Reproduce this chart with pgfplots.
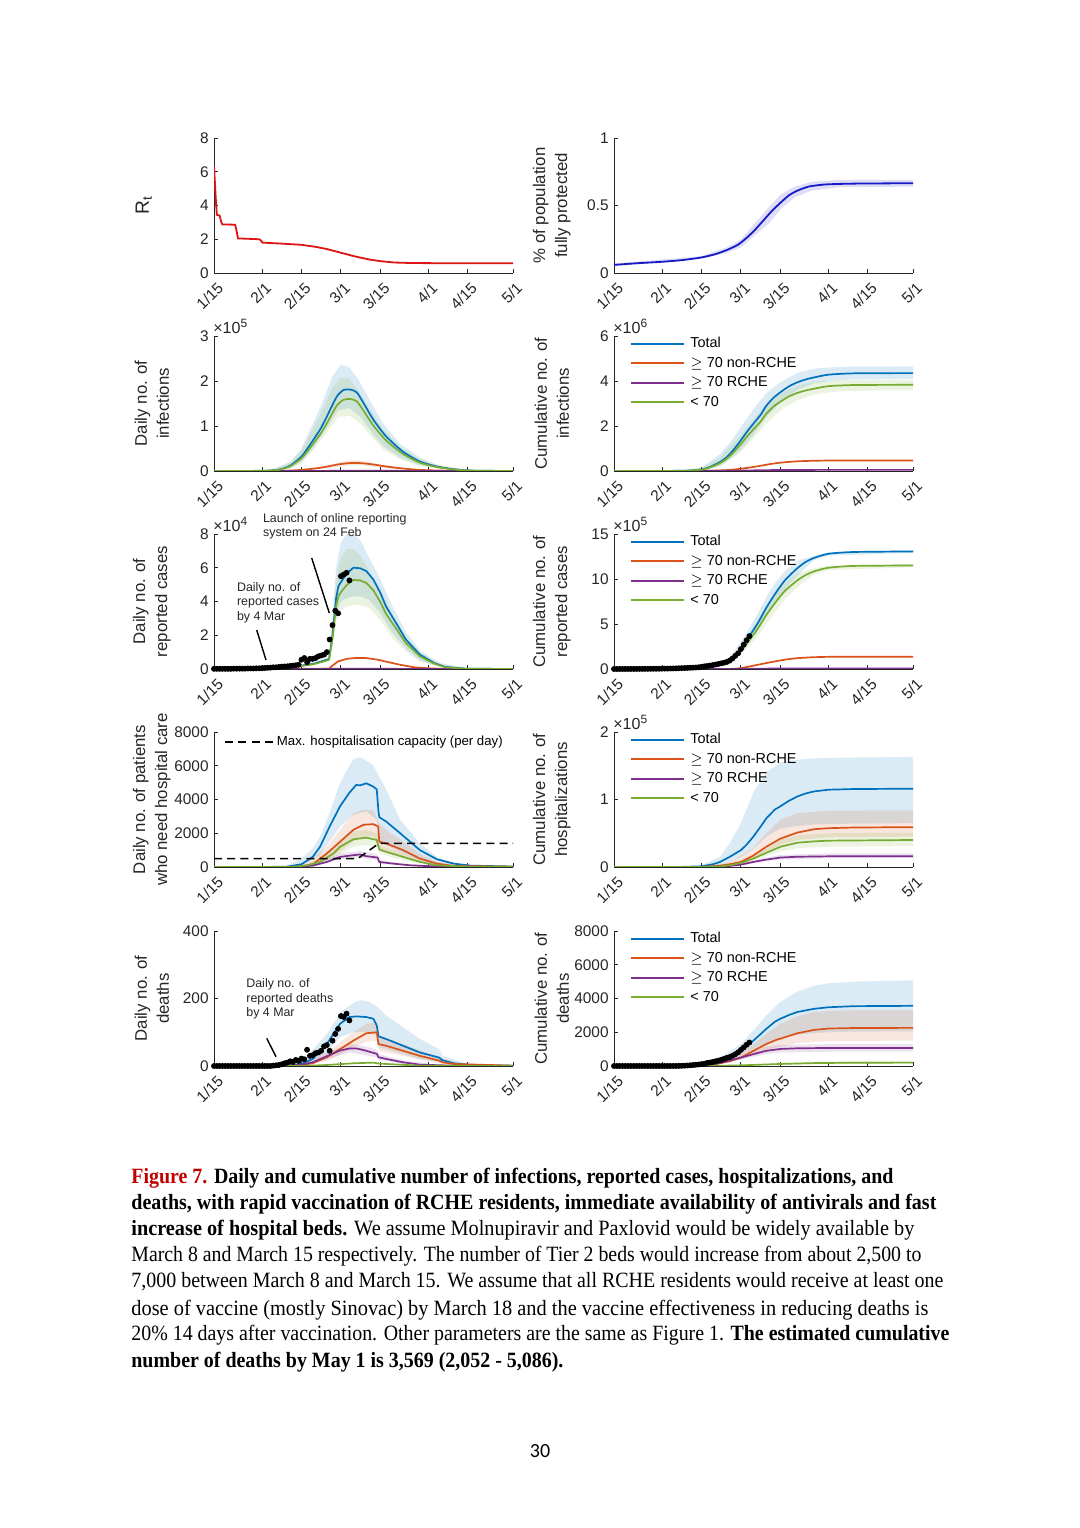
\documentclass[border=0pt]{standalone}
\usepackage{fontspec}
\setmainfont{Liberation Sans}
\newfontfamily\capfont{Liberation Serif}
\newfontfamily\pagefont{Carlito}
\usepackage{graphicx}
\usepackage{pgfplots}
\pgfplotsset{compat=1.18}

\definecolor{axgray}{RGB}{38,38,38}
\definecolor{mblue}{RGB}{0,114,189}
\definecolor{morange}{RGB}{217,83,25}
\definecolor{mpurple}{RGB}{126,47,142}
\definecolor{mgreen}{RGB}{119,172,48}
\definecolor{rtred}{RGB}{220,20,20}
\definecolor{vacblue}{RGB}{25,25,200}
\definecolor{figred}{RGB}{192,0,0}

\newcommand\ticksize{\fontsize{7.7}{9}\selectfont}
\newcommand\facsize{\fontsize{8}{9}\selectfont}
\newcommand\labsize{\fontsize{8.4}{11}\selectfont}
\newcommand\legsize{\fontsize{7.2}{8.5}\selectfont}
\newcommand\notesize{\fontsize{6.2}{7.5}\selectfont}
\newcommand\capsize{\fontsize{10.9}{13}\selectfont}
\newcommand\capline[3]{\node[anchor=base west, inner sep=0pt] at (131,#1)
  {\resizebox{#2}{\height}{\capfont\capsize #3}};}

\pgfplotsset{
  mat/.style={
    scale only axis, width=149.5pt, height=67.5pt,
    xmin=0, xmax=106, ymin=0,
    xtick={0,17,31,45,59,76,90,106},
    xticklabels={1/15,2/1,2/15,3/1,3/15,4/1,4/15,5/1},
    axis x line*=bottom, axis y line*=left,
    axis line style={-, axgray, line width=0.45pt},
    tick align=inside, major tick length=2.2pt,
    every tick/.style={axgray, line width=0.45pt},
    tick label style={font=\ticksize, text=axgray},
    xticklabel style={rotate=45, anchor=north east, inner sep=0pt, xshift=-1.9pt, yshift=-3.5pt},
    yticklabel style={inner sep=0pt, xshift=-2.5pt},
    scaled ticks=false,
    /pgf/number format/assume math mode=true,
    /pgf/number format/1000 sep={},
    every axis y label/.style={at={(axis description cs:-0.208,0.5)}, rotate=90,
      anchor=center, align=center, font=\labsize, text=axgray},
    legend image code/.code={\draw[##1, line width=1pt] (0pt,0pt) -- (26.5pt,0pt);},
    legend cell align=left,
    legend style={draw=none, fill=none, at={(axis description cs:0.0535,1)},
      anchor=north west, font=\legsize, inner sep=0pt, row sep=2.15pt,
      nodes={inner sep=0.5pt, text height=5.2pt, text depth=1.4pt},
      /tikz/every odd column/.append style={column sep=2pt}},
  },
  hosplegend/.style={
    legend image code/.code={\draw[##1] (0pt,0pt) -- (24.5pt,0pt);},
    legend style={at={(axis description cs:0.0334,0.985)}, font=\fontsize{6.6}{8}\selectfont,
      /tikz/every odd column/.append style={column sep=0.5pt}}},
  ln/.style={line width=0.85pt},
  bd/.style={draw=none, fill=#1, fill opacity=0.14, forget plot},
  dots/.style={only marks, mark=*, mark size=1.25pt, black, forget plot},
}

\begin{document}
\begin{tikzpicture}
\path[use as bounding box, fill=white] (0,0) rectangle (540pt,764pt);

% ---------- row 1 ----------
\begin{axis}[mat, name=A, at={(107pt,627.5pt)}, anchor=south west,
  ymax=8, ytick={0,2,4,6,8}, ylabel={R\textsubscript{t}},
  every axis y label/.append style={at={(axis description cs:-0.235,0.5)}, font=\fontsize{9.6}{11}\selectfont}]
\addplot[rtred, line width=0.9pt] coordinates {
(0,6.35)(0.6,4.5)(1,3.45)(2,3.4)(2.6,3.0)(3,2.88)(7.5,2.86)(8,2.5)(8.5,2.05)
(16,2.0)(16.5,1.95)(17.2,1.8)(24,1.74)(31,1.67)(36,1.55)(40,1.42)(45,1.2)
(50,0.98)(55,0.8)(59,0.7)(64,0.62)(70,0.59)(80,0.58)(106,0.58)};
\end{axis}

\begin{axis}[mat, name=B, at={(307pt,627.5pt)}, anchor=south west,
  ymax=1, ytick={0,0.5,1}, ylabel={\% of population\\fully protected}]
\addplot[bd=vacblue] coordinates {
(0,0.07)(31,0.125)(40,0.19)(45,0.25)(50,0.37)(55,0.49)(59,0.58)(64,0.64)(70,0.675)(80,0.69)(106,0.69)
(106,0.64)(80,0.635)(70,0.61)(64,0.56)(59,0.47)(55,0.37)(50,0.28)(45,0.19)(40,0.15)(31,0.105)(0,0.05)};
\addplot[vacblue, line width=0.9pt, smooth, tension=0.4] coordinates {
(0,0.06)(8,0.072)(17,0.083)(24,0.095)(31,0.115)(36,0.14)(40,0.17)(44,0.21)(47,0.26)
(50,0.32)(53,0.39)(56,0.46)(59,0.52)(62,0.575)(65,0.61)(69,0.64)(73,0.652)(76,0.657)(85,0.662)(106,0.665)};
\end{axis}

% ---------- row 2 ----------
\begin{axis}[mat, name=C, at={(107pt,528.5pt)}, anchor=south west,
  ymax=3, ytick={0,1,2,3}, ylabel={Daily no. of\\infections}]
\addplot[bd=mblue] coordinates {
(20,0.02)(27,0.2)(31,0.5)(37.6,1.4)(42,2.1)(45,2.37)(48,2.3)(51,2.05)(55,1.6)(60,1.05)(66,0.6)(73,0.3)(80,0.12)(90,0.03)(106,0)
(106,0)(90,0.005)(80,0.06)(73,0.13)(66,0.3)(60,0.55)(56,0.85)(52,1.2)(48,1.4)(44,1.35)(40,0.95)(35,0.5)(31,0.2)(27,0.06)(20,0)};
\addplot[bd=mgreen] coordinates {
(20,0.02)(27,0.18)(31,0.45)(37.6,1.25)(42,1.85)(45,2.08)(48,2.05)(51,1.8)(55,1.4)(60,0.92)(66,0.52)(73,0.26)(80,0.1)(90,0.02)(106,0)
(106,0)(90,0.004)(80,0.05)(73,0.11)(66,0.26)(60,0.48)(56,0.75)(52,1.05)(48,1.23)(44,1.2)(40,0.85)(35,0.45)(31,0.18)(27,0.05)(20,0)};
\addplot[bd=morange] coordinates {
(24,0.005)(31,0.035)(40,0.12)(47,0.23)(52,0.23)(60,0.14)(70,0.04)(80,0.01)(106,0)
(106,0)(80,0.005)(70,0.02)(60,0.07)(52,0.13)(47,0.12)(40,0.06)(31,0.015)(24,0)};
\addplot[mblue, ln, smooth, tension=0.4] coordinates {
(0,0)(17,0.005)(23,0.03)(27,0.12)(31,0.32)(34,0.58)(37.6,0.92)(40,1.21)(43.5,1.65)(45.9,1.8)
(48.2,1.81)(50.6,1.75)(53,1.51)(56.5,1.14)(61,0.77)(67,0.43)(73,0.21)(79,0.1)(85,0.04)(91,0.01)(106,0)};
\addplot[morange, ln, smooth, tension=0.4] coordinates {
(0,0)(24,0.005)(31,0.025)(37.6,0.07)(43.5,0.14)(47,0.17)(50,0.18)(53,0.17)(57,0.14)(61,0.1)
(67,0.055)(73,0.025)(80,0.01)(90,0.002)(106,0)};
\addplot[mpurple, ln] coordinates {(0,0)(40,0.003)(50,0.006)(60,0.004)(80,0.001)(106,0)};
\addplot[mgreen, ln, smooth, tension=0.4] coordinates {
(0,0)(17,0.004)(23,0.026)(27,0.106)(31,0.28)(34,0.51)(37.6,0.81)(40,1.06)(43.5,1.45)(45.9,1.58)
(48.2,1.6)(50.6,1.55)(53,1.34)(56.5,1.01)(61,0.68)(67,0.38)(73,0.185)(79,0.088)(85,0.035)(91,0.009)(106,0)};
\end{axis}

\begin{axis}[mat, name=D, at={(307pt,528.5pt)}, anchor=south west,
  ymax=6, ytick={0,2,4,6}, ylabel={Cumulative no. of\\infections}]
\addplot[bd=mblue] coordinates {
(24,0.02)(31,0.15)(37.6,0.75)(42,1.4)(45,1.95)(49.4,2.75)(54,3.45)(59,3.95)(65,4.35)(71,4.55)(80,4.63)(106,4.65)
(106,4.1)(80,4.05)(71,3.9)(65,3.6)(59,3.05)(54,2.4)(49.4,1.6)(45,0.95)(42,0.6)(37.6,0.22)(31,0.03)(24,0)};
\addplot[bd=mgreen] coordinates {
(24,0.02)(31,0.12)(37.6,0.6)(45,1.6)(54,3.0)(59,3.45)(65,3.8)(71,3.97)(80,4.04)(106,4.05)
(106,3.6)(80,3.55)(71,3.4)(65,3.15)(59,2.7)(54,2.1)(45,0.85)(37.6,0.2)(31,0.03)(24,0)};
\addplot[mblue, ln, smooth, tension=0.4] coordinates {
(0,0)(24,0.01)(31,0.07)(34,0.18)(37.6,0.4)(40,0.62)(42.3,0.93)(45,1.37)(47,1.72)(49.4,2.1)(52,2.5)
(54,2.9)(56.5,3.25)(59,3.5)(62,3.76)(65,3.94)(68,4.07)(71,4.16)(76,4.28)(85,4.34)(106,4.35)};
\addplot[morange, ln, smooth, tension=0.4] coordinates {
(0,0)(31,0.005)(40,0.04)(45,0.1)(50,0.19)(55,0.3)(59,0.37)(65,0.43)(71,0.455)(80,0.468)(106,0.47)};
\addplot[mpurple, ln, smooth, tension=0.4] coordinates {
(0,0)(40,0.01)(50,0.03)(60,0.045)(80,0.05)(106,0.05)};
\addplot[mgreen, ln, smooth, tension=0.4] coordinates {
(0,0)(24,0.009)(31,0.062)(34,0.158)(37.6,0.35)(40,0.55)(42.3,0.82)(45,1.2)(47,1.51)(49.4,1.85)(52,2.2)
(54,2.55)(56.5,2.86)(59,3.08)(62,3.31)(65,3.47)(68,3.58)(71,3.66)(76,3.77)(85,3.82)(106,3.83)};
\legend{Total,$\geq$ 70 non-RCHE,$\geq$ 70 RCHE,< 70}
\end{axis}

% ---------- row 3 ----------
\begin{axis}[mat, name=E, at={(107pt,429.5pt)}, anchor=south west,
  ymax=8, ytick={0,2,4,6,8}, ylabel={Daily no. of\\reported cases}]
\addplot[bd=mblue] coordinates {
(40.8,0.7)(42,3)(43.3,6)(45,7.5)(47,8)(49.4,8)(52,7.6)(55,6.6)(59,5.3)(63,3.8)(68,2.2)(73,1.1)(80,0.35)(90,0.05)(106,0)
(106,0)(90,0)(80,0.15)(73,0.5)(68,1.2)(63,2.2)(59,3.3)(55,4.1)(52,4.3)(49.4,4.3)(47,4.2)(45,4)(43.3,3.2)(42,1.5)(40.8,0.5)};
\addplot[bd=mgreen] coordinates {
(40.8,0.6)(42,2.7)(43.3,5.3)(45,6.6)(47,7.1)(49.4,7.1)(52,6.7)(55,5.8)(59,4.7)(63,3.3)(68,1.9)(73,1.0)(80,0.3)(90,0.04)(106,0)
(106,0)(90,0)(80,0.13)(73,0.45)(68,1.05)(63,1.9)(59,2.9)(55,3.6)(52,3.8)(49.4,3.8)(47,3.7)(45,3.5)(43.3,2.8)(42,1.3)(40.8,0.45)};
\addplot[mblue, ln] coordinates {
(0,0)(17,0.02)(24,0.08)(31,0.2)(35,0.3)(39,0.5)(40.8,0.6)(42,2.0)(43.3,4.2)(44.1,4.9)(45,5.15)(47,5.65)
(49.4,6.0)(51.8,5.97)(54,5.8)(56.5,5.3)(59,4.5)(61,3.7)(65,2.6)(68,1.75)(73,0.85)(78,0.36)(82,0.12)(89,0.02)(106,0)};
\addplot[morange, ln] coordinates {
(0,0)(40.8,0.02)(42,0.2)(44,0.45)(47,0.6)(50,0.65)(54,0.65)(58,0.55)(62,0.4)(66,0.25)(71,0.1)(77,0.03)(85,0.005)(106,0)};
\addplot[mpurple, ln] coordinates {(0,0)(45,0.01)(55,0.015)(70,0.005)(106,0)};
\addplot[mgreen, ln] coordinates {
(0,0)(17,0.018)(24,0.07)(31,0.18)(35,0.27)(39,0.45)(40.8,0.55)(42,1.8)(43.3,3.7)(44.1,4.3)(45,4.55)(47,4.97)
(49.4,5.28)(51.8,5.25)(54,5.1)(56.5,4.66)(59,3.96)(61,3.26)(65,2.29)(68,1.54)(73,0.75)(78,0.32)(82,0.1)(89,0.018)(106,0)};
\addplot[dots] coordinates {
(0,0.01)(1,0.01)(2,0.01)(3,0.01)(4,0.01)(5,0.01)(6,0.01)(7,0.02)(8,0.02)(9,0.02)(10,0.02)(11,0.02)
(12,0.03)(13,0.03)(14,0.03)(15,0.04)(16,0.04)(17,0.05)(18,0.06)(19,0.07)(20,0.08)(21,0.1)(22,0.1)
(23,0.12)(24,0.14)(25,0.15)(26,0.16)(27,0.18)(28,0.2)(29,0.22)(30,0.25)(31,0.55)(32,0.65)(33,0.4)
(34,0.6)(35,0.6)(36,0.65)(37,0.75)(38,0.8)(39,0.85)(40,1.0)(41,1.75)(42,2.6)(43,3.45)(44,3.3)
(45,5.5)(46,5.6)(47,5.7)(48,5.25)};
\end{axis}

\begin{axis}[mat, name=F, at={(307pt,429.5pt)}, anchor=south west,
  ymax=15, ytick={0,5,10,15}, ylabel={Cumulative no. of\\reported cases}]
\addplot[bd=mblue] coordinates {
(40,0.9)(45,3.0)(48,4.5)(51,6.2)(54,8.0)(57,9.5)(61,11.0)(65,12.0)(71,12.6)(76,12.95)(106,13.2)
(106,12.9)(76,12.6)(71,12.1)(65,10.4)(61,9.0)(57,7.2)(54,5.8)(51,4.2)(48,3.0)(45,2.0)(40,0.7)};
\addplot[bd=mgreen] coordinates {
(40,0.8)(45,2.6)(48,4.0)(51,5.5)(54,7.1)(57,8.4)(61,9.7)(65,10.6)(71,11.2)(76,11.45)(106,11.7)
(106,11.3)(76,11.0)(71,10.5)(65,9.1)(61,7.9)(57,6.3)(54,5.0)(51,3.6)(48,2.6)(45,1.7)(40,0.6)};
\addplot[mblue, ln, smooth, tension=0.4] coordinates {
(0,0)(17,0.04)(24,0.1)(31,0.22)(35,0.4)(40,0.8)(42,1.15)(45,2.2)(48,3.65)(51,5.1)(54,6.8)(57,8.3)
(59,9.2)(61,10.0)(65,11.2)(68,11.9)(71,12.35)(76,12.8)(85,13.0)(106,13.06)};
\addplot[morange, ln, smooth, tension=0.4] coordinates {
(0,0)(40,0)(42,0.02)(45,0.1)(48,0.28)(51,0.47)(54,0.66)(57,0.84)(59,0.95)(62,1.1)(65,1.2)(70,1.3)(76,1.35)(90,1.37)(106,1.37)};
\addplot[mpurple, ln] coordinates {(0,0)(40,0.005)(50,0.03)(60,0.06)(80,0.07)(106,0.07)};
\addplot[mgreen, ln, smooth, tension=0.4] coordinates {
(0,0)(17,0.035)(31,0.18)(40,0.7)(42,1.0)(45,1.95)(48,3.2)(51,4.5)(54,6.0)(57,7.3)(59,8.1)(61,8.8)
(65,9.85)(68,10.45)(71,10.85)(76,11.25)(85,11.45)(106,11.5)};
\addplot[dots] coordinates {
(0,0.001)(1,0.002)(2,0.003)(3,0.003)(4,0.004)(5,0.005)(6,0.006)(7,0.008)(8,0.01)(9,0.011)(10,0.013)
(11,0.015)(12,0.017)(13,0.02)(14,0.022)(15,0.026)(16,0.029)(17,0.034)(18,0.039)(19,0.045)(20,0.052)
(21,0.061)(22,0.069)(23,0.08)(24,0.092)(25,0.105)(26,0.119)(27,0.134)(28,0.151)(29,0.17)(30,0.192)
(31,0.24)(32,0.296)(33,0.33)(34,0.382)(35,0.434)(36,0.49)(37,0.555)(38,0.625)(39,0.698)(40,0.785)
(41,0.936)(42,1.161)(43,1.459)(44,1.745)(45,2.22)(46,2.705)(47,3.198)(48,3.652)};
\legend{Total,$\geq$ 70 non-RCHE,$\geq$ 70 RCHE,< 70}
\end{axis}

% ---------- row 4 ----------
\begin{axis}[mat, hosplegend, name=G, at={(107pt,330.5pt)}, anchor=south west,
  ymax=8000, ytick={0,2000,4000,6000,8000},
  ylabel={Daily no. of patients\\who need hospital care}]
\addplot[bd=mblue] coordinates {
(25,30)(31,500)(35,1100)(37.6,1800)(41,3200)(44.3,4800)(47,5700)(49.4,6400)(51.8,6500)(54,6300)(56.5,6000)
(61,4600)(66,2800)(73,1400)(79,600)(85,200)(95,50)(106,20)
(106,0)(85,50)(79,150)(73,400)(66,900)(61,1300)(58.6,1500)(57.7,2800)(54,3300)(49.4,3100)(44.7,2400)(41,1500)(37.6,700)(31,60)(25,0)};
\addplot[bd=morange] coordinates {
(31,60)(40,1200)(44.7,2200)(49.4,3200)(53,3400)(56.5,3350)(58.6,2600)(61,2200)(67,1500)(73,800)(79,300)(90,50)(106,20)
(106,0)(90,10)(79,100)(73,300)(67,600)(61,900)(58.6,1000)(56.5,1800)(53,1800)(49.4,1500)(44.7,900)(40,400)(31,20)};
\addplot[bd=mgreen] coordinates {
(33,150)(42,1100)(49.4,2100)(54,2200)(58,2000)(58.6,1300)(67,800)(79,150)(106,10)
(106,0)(79,50)(67,400)(58.6,800)(58,1200)(54,1300)(49.4,1200)(42,500)(33,50)};
\addplot[bd=mpurple] coordinates {
(35,120)(44.7,800)(51.8,950)(58,750)(58.6,400)(70,150)(106,0)
(106,0)(70,60)(58.6,200)(58,400)(51.8,550)(44.7,450)(35,50)};
\addplot[mblue, ln, forget plot] coordinates {
(0,0)(17,0)(25.8,20)(31,160)(35,600)(37.6,1200)(41,2400)(44.7,3600)(48,4400)(50.4,4860)(51.8,4840)
(54,4960)(56.5,4760)(57.7,4600)(58.3,3300)(58.6,2950)(61,2700)(66,2000)(69.5,1500)(73,1000)(79,460)
(85,200)(91,80)(106,30)};
\addplot[morange, ln, forget plot] coordinates {
(0,0)(25,0)(31,40)(35,160)(40,800)(44.7,1500)(49.4,2200)(53,2500)(56.5,2540)(58.2,2400)(58.6,1500)
(61,1400)(67,1000)(73,500)(79,200)(85,60)(106,20)};
\addplot[mpurple, ln, forget plot] coordinates {
(0,0)(28,0)(35,80)(40,300)(44.7,600)(49.4,700)(51.8,740)(54,640)(58,560)(58.6,300)(63.5,200)(69.5,100)(80,20)(106,0)};
\addplot[mgreen, ln, forget plot] coordinates {
(0,0)(28,0)(33,100)(37.6,300)(42.3,800)(44.7,1200)(49.4,1640)(54,1740)(57.7,1600)(58.6,1040)(61,900)
(67,600)(73,300)(79,100)(90,20)(106,10)};
\addplot[black, line width=0.8pt, dash pattern=on 4pt off 2.6pt] coordinates {
(0,500)(51,500)(58.5,1400)(106,1400)};
\addlegendentry{Max. hospitalisation capacity (per day)}
\end{axis}

\begin{axis}[mat, name=H, at={(307pt,330.5pt)}, anchor=south west,
  ymax=2, ytick={0,1,2}, ylabel={Cumulative no. of\\hospitalizations}]
\addplot[bd=mblue] coordinates {
(28,0.005)(31,0.03)(37.6,0.15)(41,0.35)(45,0.65)(49.4,1.1)(54,1.4)(59,1.55)(65,1.59)(71,1.61)(80,1.62)(106,1.63)
(106,0.65)(80,0.64)(71,0.63)(65,0.61)(59,0.57)(54,0.45)(49.4,0.27)(45,0.15)(41,0.07)(37.6,0.03)(31,0.003)(28,0)};
\addplot[bd=morange] coordinates {
(31,0.002)(41,0.07)(49.4,0.28)(54,0.5)(59,0.7)(65,0.8)(76,0.835)(106,0.84)
(106,0.45)(76,0.44)(65,0.4)(59,0.33)(54,0.22)(49.4,0.12)(41,0.02)(31,0)};
\addplot[bd=mgreen] coordinates {
(33,0.003)(45,0.09)(54,0.28)(59,0.4)(65,0.47)(76,0.5)(106,0.51)
(106,0.31)(76,0.3)(65,0.28)(59,0.23)(54,0.16)(45,0.04)(33,0)};
\addplot[bd=mpurple] coordinates {
(33,0.002)(45,0.05)(54,0.14)(59,0.18)(76,0.2)(106,0.2)
(106,0.13)(76,0.128)(59,0.11)(54,0.085)(45,0.025)(33,0)};
\addplot[mblue, ln] coordinates {
(0,0)(24,0.002)(31,0.01)(35,0.04)(37.6,0.075)(41,0.15)(45,0.25)(47,0.33)(49.4,0.45)(52,0.6)(54,0.72)
(57,0.85)(59,0.9)(62,0.98)(65,1.045)(68,1.09)(71,1.12)(76,1.145)(85,1.155)(106,1.16)};
\addplot[morange, ln] coordinates {
(0,0)(31,0.001)(37.6,0.02)(41,0.04)(45,0.075)(49.4,0.17)(54,0.3)(59,0.42)(62,0.465)(65,0.51)(71,0.56)
(76,0.575)(85,0.585)(106,0.59)};
\addplot[mpurple, ln] coordinates {
(0,0)(33,0.001)(37.6,0.008)(41,0.015)(45,0.035)(49.4,0.075)(54,0.11)(59,0.14)(65,0.152)(76,0.158)(106,0.16)};
\addplot[mgreen, ln] coordinates {
(0,0)(33,0.002)(37.6,0.01)(41,0.025)(45,0.06)(49.4,0.125)(54,0.21)(59,0.3)(62,0.33)(65,0.36)(71,0.38)(76,0.39)(106,0.4)};
\legend{Total,$\geq$ 70 non-RCHE,$\geq$ 70 RCHE,< 70}
\end{axis}

% ---------- row 5 ----------
\begin{axis}[mat, name=I, at={(107pt,231pt)}, anchor=south west,
  ymax=400, ytick={0,200,400}, ylabel={Daily no. of\\deaths}]
\addplot[bd=mblue] coordinates {
(31,10)(40,95)(45,160)(50,190)(52,195)(55,190)(58,175)(61,150)(67,115)(73,80)(79.8,50)(81,30)(90,6)(106,2)
(106,0)(90,1)(81,8)(79.8,12)(73,20)(67,35)(61,50)(58.5,55)(57.7,90)(54,100)(49.4,100)(44.7,85)(40,40)(31,2)};
\addplot[bd=morange] coordinates {
(31,5)(40,40)(49.4,100)(54,125)(57.7,130)(58.5,90)(67,65)(79.8,25)(90,3)(106,1)
(106,0)(90,1)(79.8,8)(67,30)(58.5,45)(57.7,75)(54,72)(49.4,55)(40,15)(31,1)};
\addplot[bd=mpurple] coordinates {
(31,6)(40,40)(48,65)(54,58)(57.7,48)(58.5,35)(67,17)(80,3)(106,0)
(106,0)(80,0)(67,6)(58.5,18)(57.7,26)(54,32)(48,40)(40,20)(31,2)};
\addplot[mblue, ln] coordinates {
(0,0)(20,0)(23,1)(27,3)(31,6)(35,21)(40,65)(44.7,125)(48,145)(50.6,147)(54,145)(56.5,140)(57.7,120)
(58.3,88)(61,80)(67,60)(73,40)(79.8,25)(81,17)(85,8)(91,3)(106,1)};
\addplot[morange, ln] coordinates {
(0,0)(25,0)(31,3)(35,8)(40,26)(44.7,50)(49.4,75)(54,97)(57.7,100)(58.3,65)(61,60)(67,45)(73,30)
(79.8,16)(81,11)(85,6)(106,1)};
\addplot[mpurple, ln] coordinates {
(0,0)(25,0)(31,4)(35,11)(40,29)(44.7,46)(48.2,52)(50.6,52)(54,45)(57.7,36)(58.3,26)(61,21)(67,11)(73,4)(85,1)(106,0)};
\addplot[mgreen, ln] coordinates {
(0,0)(31,0)(40,3)(49.4,8)(56.5,10)(58.5,7)(61,6)(73,1)(106,0)};
\addplot[dots] coordinates {
(0,0)(1,0)(2,0)(3,0)(4,0)(5,0)(6,0)(7,0)(8,0)(9,0)(10,0)(11,0)(12,0)(13,0)(14,0)(15,0)(16,0)
(17,0)(18,0)(19,0)(20,0)(21,1)(22,2)(23,3)(24,5)(25,8)(26,10)(27,14)(28,12)(29,18)(30,15)
(31,22)(32,20)(33,48)(34,30)(35,32)(36,38)(37,40)(38,45)(39,58)(40,62)(41,45)(42,75)(43,95)
(44,110)(45,148)(46,145)(47,155)(48,135)};
\end{axis}

\begin{axis}[mat, name=J, at={(307pt,231pt)}, anchor=south west,
  ymax=8000, ytick={0,2000,4000,6000,8000}, ylabel={Cumulative no. of\\deaths}]
\addplot[bd=mblue] coordinates {
(28,30)(31,110)(37.6,500)(45,1300)(49.4,2100)(54,3000)(59,3800)(65,4400)(71,4750)(76,4900)(85,5000)(106,5080)
(106,2050)(85,2040)(76,2000)(71,1950)(65,1850)(59,1650)(54,1350)(49.4,1000)(45,650)(37.6,250)(31,50)(28,10)};
\addplot[bd=morange] coordinates {
(31,30)(41,400)(49.4,1300)(54,1900)(59,2500)(65,2950)(71,3200)(80,3300)(106,3320)
(106,1500)(80,1490)(71,1440)(65,1350)(59,1150)(54,950)(49.4,650)(41,200)(31,10)};
\addplot[bd=mpurple] coordinates {
(31,35)(45,650)(54,1150)(59,1250)(76,1290)(106,1300)
(106,850)(76,845)(59,800)(54,700)(45,380)(31,15)};
\addplot[bd=mgreen] coordinates {
(45,60)(59,180)(85,280)(106,290)(106,130)(85,125)(59,75)(45,20)};
\addplot[mblue, ln] coordinates {
(0,0)(24,5)(28,20)(31,80)(35,220)(37.6,360)(41,580)(45,900)(49.4,1500)(54,2200)(57,2620)(59,2800)
(62,3020)(65,3200)(71,3390)(76,3480)(85,3545)(106,3565)};
\addplot[morange, ln] coordinates {
(0,0)(28,5)(31,20)(35,80)(37.6,160)(41,280)(45,500)(49.4,900)(54,1300)(57.7,1560)(59,1620)(62,1780)
(65,1940)(71,2140)(76,2220)(85,2250)(106,2260)};
\addplot[mpurple, ln] coordinates {
(0,0)(28,5)(31,25)(35,90)(37.6,180)(41,330)(45,500)(49.4,700)(54,900)(59,1010)(65,1050)(76,1068)(106,1070)};
\addplot[mgreen, ln] coordinates {
(0,0)(35,5)(45,40)(54,90)(59,120)(70,170)(85,195)(106,200)};
\addplot[dots] coordinates {
(0,0)(1,0)(2,0)(3,0)(4,0)(5,0)(6,0)(7,0)(8,0)(9,0)(10,0)(11,0)(12,0)(13,0)(14,0)(15,0)(16,0)
(17,0)(18,0)(19,0)(20,0)(21,1)(22,3)(23,6)(24,11)(25,19)(26,29)(27,43)(28,55)(29,73)(30,88)
(31,110)(32,130)(33,178)(34,208)(35,240)(36,278)(37,318)(38,363)(39,421)(40,483)(41,528)(42,603)
(43,698)(44,808)(45,956)(46,1101)(47,1256)(48,1391)};
\legend{Total,$\geq$ 70 non-RCHE,$\geq$ 70 RCHE,< 70}
\end{axis}

% ---------- x10^n factors ----------
\foreach \ax/\ex in {C/5,D/6,E/4,F/5,H/5}{
  \node[anchor=base west, inner sep=0pt, text=axgray, font=\facsize] at ([xshift=-0.5pt,yshift=1.3pt]\ax.north west)
    {×10\textsuperscript{\ex}};
}

% ---------- annotations and caption, in page pixels ----------
\begin{scope}[x=0.5pt, y=-0.5pt, shift={(0pt,764pt)}]
\node[anchor=base west, inner sep=0pt, font=\notesize, text=axgray] at (262.7,522.7) {Launch of online reporting};
\node[anchor=base west, inner sep=0pt, font=\notesize, text=axgray] at (262.7,537) {system on 24 Feb};
\draw[black, line width=0.7pt] (311.7,558) -- (329.3,613);
\node[anchor=base west, inner sep=0pt, font=\notesize, text=axgray] at (236.7,591.7) {Daily no. of};
\node[anchor=base west, inner sep=0pt, font=\notesize, text=axgray] at (236.7,606) {reported cases};
\node[anchor=base west, inner sep=0pt, font=\notesize, text=axgray] at (236.7,620.7) {by 4 Mar};
\draw[black, line width=0.7pt] (256.7,630) -- (266,660);
\node[anchor=base west, inner sep=0pt, font=\notesize, text=axgray] at (246,987.3) {Daily no. of};
\node[anchor=base west, inner sep=0pt, font=\notesize, text=axgray] at (246,1002.3) {reported deaths};
\node[anchor=base west, inner sep=0pt, font=\notesize, text=axgray] at (246,1016.7) {by 4 Mar};
\draw[black, line width=0.7pt] (266.7,1038.3) -- (276,1056.7);

\capline{1184}{381pt}{\textcolor{figred}{\textbf{Figure 7.}} \textbf{Daily and cumulative number of infections, reported cases, hospitalizations, and}}
\capline{1210}{402.5pt}{\textbf{deaths, with rapid vaccination of RCHE residents, immediate availability of antivirals and fast}}
\capline{1236}{391.5pt}{\textbf{increase of hospital beds.} We assume Molnupiravir and Paxlovid would be widely available by}
\capline{1262}{395pt}{March 8 and March 15 respectively. The number of Tier 2 beds would increase from about 2,500 to}
\capline{1288}{406pt}{7,000 between March 8 and March 15. We assume that all RCHE residents would receive at least one}
\capline{1315}{398.5pt}{dose of vaccine (mostly Sinovac) by March 18 and the vaccine effectiveness in reducing deaths is}
\capline{1341}{409pt}{20\% 14 days after vaccination. Other parameters are the same as Figure 1. \textbf{The estimated cumulative}}
\capline{1367}{216pt}{\textbf{number of deaths by May 1 is 3,569 (2,052 - 5,086).}}
\node[anchor=base, inner sep=0pt] at (540,1458) {\pagefont\fontsize{10}{12}\selectfont 30};
\end{scope}
\end{tikzpicture}
\end{document}
